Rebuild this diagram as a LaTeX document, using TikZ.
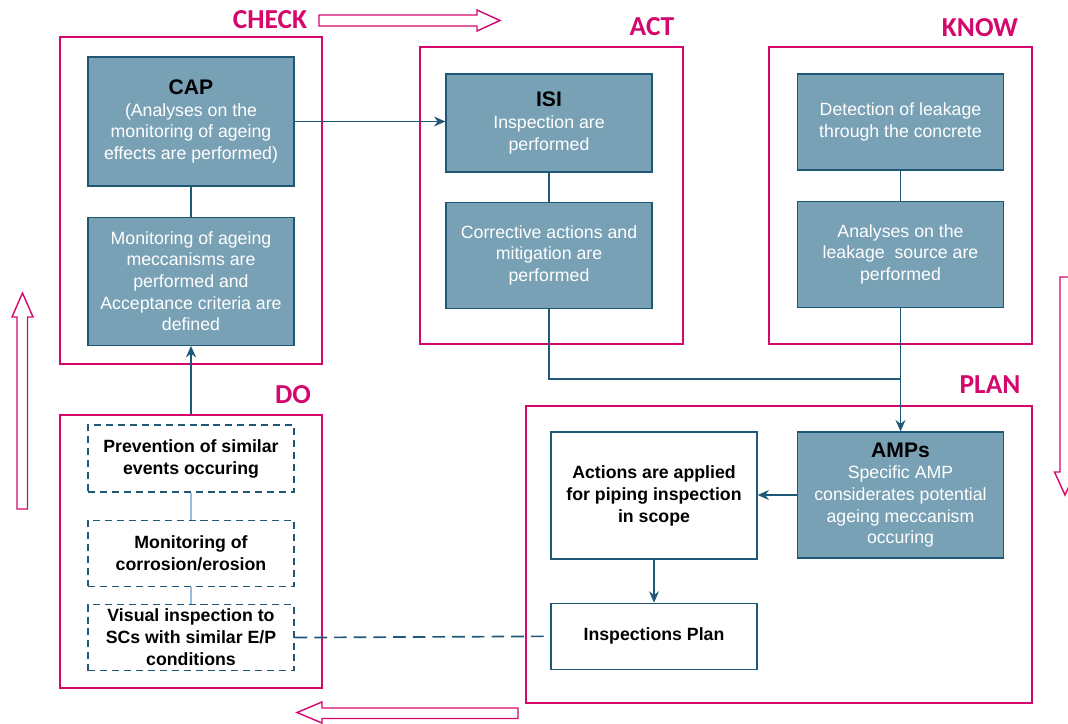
\documentclass[tikz,border=0pt]{standalone}
\usepackage{fontspec}
\setmainfont{Liberation Sans}
\newfontfamily\phasefont{Carlito}
\usepackage{tikz}
\usetikzlibrary{arrows.meta,positioning,calc}
\definecolor{cycleRed}{RGB}{212,8,108}
\definecolor{stepFill}{RGB}{121,161,181}
\definecolor{stepEdge}{RGB}{30,88,118}
\definecolor{doLink}{RGB}{150,190,220}
\newcommand\boxtitle[1]{{\color{black}\fontsize{15}{17}\selectfont\bfseries #1}}

\begin{document}
\begin{tikzpicture}[
  x=0.025cm,y=-0.025cm,
  node distance=0.75cm,
  frame/.style={draw=cycleRed,line width=1pt,inner sep=0pt},
  phase/.style={text=cycleRed,font=\phasefont\fontsize{19.5}{22}\selectfont\bfseries},
  sbox/.style={draw=stepEdge,line width=0.9pt,fill=stepFill,text=white,align=center,
    minimum width=5.15cm,inner sep=2pt,font=\fontsize{12.6}{15.4}\selectfont},
  wbox/.style={draw=stepEdge,line width=0.9pt,fill=white,align=center,
    minimum width=5.15cm,inner sep=2pt,font=\fontsize{12.6}{15.6}\selectfont\bfseries},
  dbox/.style={wbox,dash pattern=on 5pt off 3.5pt},
  line/.style={draw=stepEdge,line width=1.2pt},
  arrow/.style={line,-{Stealth[length=8pt,width=7pt]}},
  bigarrow/.style={draw=cycleRed,line width=1pt,fill=white,line join=miter}
]
  \useasboundingbox (0,0) rectangle (1068,724);

  % phase frames
  \node[frame,minimum width=6.55cm,minimum height=8.175cm] (fcheck) at (191,200.5) {};
  \node[frame,minimum width=6.575cm,minimum height=7.425cm] (fact) at (551.5,195.5) {};
  \node[frame,minimum width=6.575cm,minimum height=7.425cm] (fknow) at (900.5,195.5) {};
  \node[frame,minimum width=12.65cm,minimum height=7.425cm] (fplan) at (779,554.5) {};
  \node[frame,minimum width=6.55cm,minimum height=6.825cm] (fdo) at (191,551.5) {};

  \node[phase] (lcheck) at (270,20) {CHECK};
  \node[phase] (lact) at (652,27) {ACT};
  \node[phase] (lknow) at (980,28) {KNOW};
  \node[phase] (lplan) at (990,385) {PLAN};
  \node[phase] (ldo) at (293,395) {DO};

  % check
  \node[sbox,minimum height=3.225cm] (cap) at (191,121.5)
    {\boxtitle{CAP}\\(Analyses on the\\monitoring of ageing\\effects are performed)};
  \node[sbox,minimum height=3.2cm,below=of cap] (mon)
    {Monitoring of ageing\\meccanisms are\\performed and\\Acceptance criteria are\\defined};

  % act
  \node[sbox,minimum height=2.45cm] (isi) at (549,123)
    {\boxtitle{ISI}\\Inspection are\\performed};
  \node[sbox,minimum height=2.65cm,below=0.725cm of isi] (corr)
    {Corrective actions and\\mitigation are\\performed};

  % know
  \node[sbox,minimum height=2.4cm] (det) at (900.5,122)
    {Detection of leakage\\through the concrete};
  \node[sbox,minimum height=2.65cm,below=of det] (ana)
    {Analyses on the\\leakage~ source are\\performed};

  % plan
  \node[sbox,minimum height=3.15cm] (amps) at (900.5,495)
    {\boxtitle{AMPs}\\Specific AMP\\considerates potential\\ageing meccanism\\occuring};
  \node[wbox,minimum height=3.175cm] (appl) at (654,495.5)
    {Actions are applied\\for piping inspection\\in scope};
  \node[wbox,minimum height=1.65cm,below=1.075cm of appl] (iplan) {Inspections Plan};

  % do
  \node[dbox,minimum height=1.675cm] (prev) at (191,458.5)
    {Prevention of similar\\events occuring};
  \node[dbox,minimum height=1.65cm,below=0.675cm of prev] (corros)
    {Monitoring of\\corrosion/erosion};
  \node[dbox,minimum height=1.65cm,below=0.425cm of corros] (visual)
    {Visual inspection to\\SCs with similar E/P\\conditions};

  % links
  \draw[line] (cap) -- (mon);
  \draw[arrow] (cap.east) -- (isi.west |- cap.east);
  \draw[line] (isi) -- (corr);
  \draw[line] (det) -- (ana);
  \coordinate (join) at (ana.south |- 0,379);
  \draw[line] (corr.south) |- (join);
  \draw[arrow] (ana.south) -- (amps.north);
  \draw[arrow] (amps.west) -- (appl.east |- amps.west);
  \draw[arrow] (appl) -- (iplan);
  \draw[arrow] (fdo.north) -- (mon.south);
  \draw[draw=doLink,line width=1pt] (prev) -- (corros);
  \draw[draw=doLink,line width=1pt] (corros) -- (visual);
  \draw[line,dash pattern=on 9pt off 5pt] (visual.east) -- (iplan.west);

  % cycle arrows
  \draw[bigarrow] (319,15) -- (477,15) -- (477,10) -- (500,20.5) -- (477,31) -- (477,26) -- (319,26) -- cycle;
  \draw[bigarrow] (1060,277) -- (1070,277) -- (1070,472) -- (1075.5,472) -- (1065,495) -- (1054.5,472) -- (1060,472) -- cycle;
  \draw[bigarrow] (518,708) -- (322,708) -- (322,702) -- (297,712.5) -- (322,723) -- (322,718.5) -- (518,718.5) -- cycle;
  \draw[bigarrow] (17,509) -- (17,317) -- (12,317) -- (22.5,293) -- (33,317) -- (27.5,317) -- (27.5,509) -- cycle;
\end{tikzpicture}
\end{document}
